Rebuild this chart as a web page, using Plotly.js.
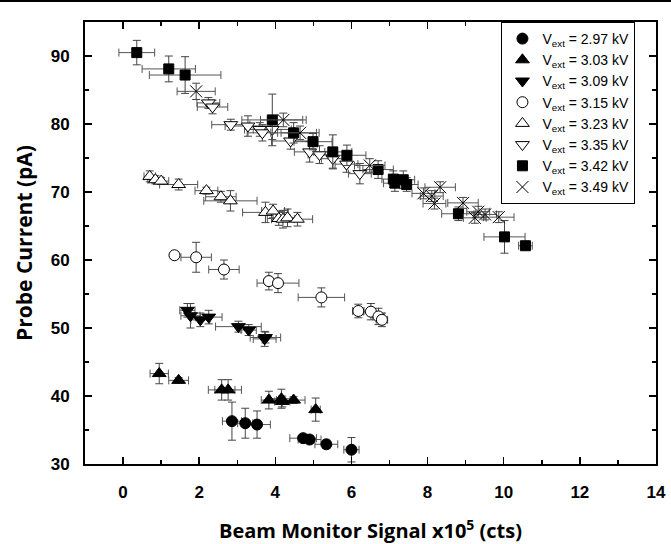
<!DOCTYPE html>
<html><head><meta charset="utf-8">
<script src="https://cdn.plot.ly/plotly-3.0.1.min.js"></script>
<style>body{margin:0;background:#fff}</style>
</head><body><div id="chart" style="width:671px;height:544px"></div>
<script>
const seriesNames = ["V<sub>ext</sub> = 2.97 kV","V<sub>ext</sub> = 3.03 kV","V<sub>ext</sub> = 3.09 kV","V<sub>ext</sub> = 3.15 kV","V<sub>ext</sub> = 3.23 kV","V<sub>ext</sub> = 3.35 kV","V<sub>ext</sub> = 3.42 kV","V<sub>ext</sub> = 3.49 kV"];

const x297 = [2.86, 3.21, 3.52, 4.73, 4.9, 5.34, 6.0];
const y297 = [36.3, 36.0, 35.8, 33.8, 33.6, 32.9, 32.1];
const ex297 = [0.25, 0.2, 0.35, 0.35, 0.3, 0.3, 0.2];
const ey297 = [2.8, 2.2, 2.0, 0.5, 0.5, 0.6, 1.8];

const x303 = [0.95, 1.46, 2.59, 2.76, 3.83, 4.16, 4.18, 4.48, 5.06];
const y303 = [43.3, 42.3, 40.9, 40.9, 39.4, 39.6, 39.2, 39.4, 38.0];
const ex303 = [0.24, 0.26, 0.35, 0.35, 0.2, 0.3, 0.2, 0.3, 0.12];
const ey303 = [1.5, 0.4, 1.5, 1.5, 1.3, 1.4, 0.8, 0.5, 1.7];

const x309 = [1.69, 1.77, 2.03, 2.25, 3.03, 3.3, 3.72, 3.74];
const y309 = [52.6, 51.8, 51.2, 51.6, 50.2, 49.7, 48.4, 48.6];
const ex309 = [0.2, 0.25, 0.25, 0.35, 0.6, 0.2, 0.3, 0.4];
const ey309 = [1.0, 1.8, 1.0, 1.0, 0.8, 0.8, 1.1, 0.8];

const x315 = [1.35, 1.92, 2.65, 3.83, 4.07, 5.21, 6.18, 6.51, 6.71, 6.8];
const y315 = [60.7, 60.4, 58.6, 56.9, 56.6, 54.5, 52.5, 52.4, 51.7, 51.2];
const ex315 = [0.1, 0.4, 0.4, 0.1, 0.55, 0.61, 0.15, 0.2, 0.15, 0.15];
const ey315 = [0.5, 2.2, 1.4, 1.3, 1.4, 1.4, 1.0, 1.2, 1.2, 1.0];

const x323 = [0.7, 0.85, 1.0, 1.46, 2.19, 2.57, 2.82, 3.74, 3.94, 4.09, 4.2, 4.32, 4.58];
const y323 = [72.3, 71.8, 71.6, 71.1, 70.2, 69.3, 68.7, 67.0, 67.2, 66.1, 66.0, 66.2, 66.0];
const ex323 = [0.15, 0.2, 0.2, 0.5, 0.3, 0.4, 0.7, 0.6, 0.3, 0.3, 0.3, 0.3, 0.4];
const ey323 = [0.8, 0.6, 0.5, 0.8, 0.5, 0.8, 1.5, 1.5, 1.0, 1.0, 1.3, 1.3, 1.0];

const x335 = [2.24, 2.35, 2.83, 3.28, 3.59, 3.66, 3.92, 4.4, 4.9, 5.16, 5.51, 5.87, 6.22];
const y335 = [83.1, 82.5, 79.9, 79.7, 79.2, 78.7, 79.2, 77.5, 75.9, 75.5, 74.9, 74.1, 72.7];
const ex335 = [0.3, 0.4, 0.5, 0.6, 0.4, 0.4, 0.5, 0.5, 0.4, 0.3, 0.3, 0.3, 0.3];
const ey335 = [0.8, 1.0, 0.8, 1.5, 1.0, 1.2, 1.5, 1.2, 1.5, 1.3, 1.4, 1.2, 1.5];

const x342 = [0.36, 1.2, 1.63, 3.92, 4.48, 4.99, 5.51, 5.88, 6.7, 7.1, 7.14, 7.36, 7.45, 8.81, 10.02, 10.57];
const y342 = [90.5, 88.1, 87.2, 80.6, 78.7, 77.4, 75.9, 75.4, 73.3, 71.9, 71.3, 71.8, 71.1, 66.8, 63.4, 62.1];
const ex342 = [0.47, 0.7, 0.94, 0.8, 0.6, 0.5, 0.5, 0.5, 0.4, 0.3, 0.3, 0.3, 0.3, 0.44, 0.54, 0.18];
const ey342 = [1.8, 1.9, 2.7, 3.8, 1.5, 1.2, 2.5, 1.5, 1.3, 1.2, 1.2, 1.3, 1.0, 1.0, 2.4, 0.6];

const x349 = [1.92, 4.21, 4.65, 6.48, 7.89, 8.11, 8.18, 8.33, 8.93, 9.24, 9.33, 9.51, 9.87];
const y349 = [84.8, 80.6, 78.7, 73.9, 69.8, 69.4, 68.3, 70.7, 68.4, 66.2, 67.1, 66.7, 66.3];
const ex349 = [0.5, 0.6, 0.5, 0.4, 0.3, 0.3, 0.3, 0.4, 0.4, 0.3, 0.3, 0.3, 0.4];
const ey349 = [1.2, 1.0, 1.0, 1.0, 0.8, 0.8, 0.8, 0.8, 0.8, 0.8, 0.8, 0.8, 0.8];

const xTickVals = [0, 2, 4, 6, 8, 10, 12, 14];
const yTickVals = [30, 40, 50, 60, 70, 80, 90];

function mk(x, y, ex, ey, name, symbol, fill, size) {
  return {
    type: 'scatter', mode: 'markers', x: x, y: y, name: name,
    marker: {symbol: symbol, size: size, color: fill, line: {color: '#000', width: 1}},
    error_x: {type: 'data', array: ex, visible: true, color: '#555', thickness: 1, width: 4},
    error_y: {type: 'data', array: ey, visible: true, color: '#444', thickness: 1, width: 4}
  };
}

const traces = [
  mk(x297, y297, ex297, ey297, seriesNames[0], 'circle', '#000', 11),
  mk(x303, y303, ex303, ey303, seriesNames[1], 'triangle-up', '#000', 12),
  mk(x309, y309, ex309, ey309, seriesNames[2], 'triangle-down', '#000', 12),
  mk(x315, y315, ex315, ey315, seriesNames[3], 'circle', '#fff', 11),
  mk(x323, y323, ex323, ey323, seriesNames[4], 'triangle-up', '#fff', 12),
  mk(x335, y335, ex335, ey335, seriesNames[5], 'triangle-down', '#fff', 12),
  mk(x342, y342, ex342, ey342, seriesNames[6], 'square', '#000', 10),
  mk(x349, y349, ex349, ey349, seriesNames[7], 'x-thin-open', '#000', 12)
];

const axisCommon = {
  showgrid: false, zeroline: false, showline: true, linecolor: '#000', linewidth: 2,
  mirror: 'ticks', ticks: 'inside', ticklen: 7, tickwidth: 1.5, tickcolor: '#000',
  tickfont: {family: 'Liberation Sans, Arial, sans-serif', size: 17, color: '#000', weight: 'bold'}
};

const layout = {
  width: 671, height: 544,
  margin: {l: 85, r: 15, t: 22, b: 80},
  paper_bgcolor: '#fff', plot_bgcolor: '#fff',
  showlegend: true,
  xaxis: Object.assign({}, axisCommon, {
    range: [-1, 14], tickvals: xTickVals, ticklabelstandoff: 12,
    minor: {ticks: 'inside', dtick: 1, tick0: 0, ticklen: 4, tickwidth: 1.5, tickcolor: '#000'},
    title: {text: 'Beam Monitor Signal x10<sup>5</sup> (cts)', standoff: 23,
      font: {family: 'Open Sans, sans-serif', size: 20, color: '#000', weight: 'bold'}}
  }),
  yaxis: Object.assign({}, axisCommon, {
    range: [30, 95], tickvals: yTickVals, ticklabelstandoff: 10,
    minor: {ticks: 'inside', dtick: 5, tick0: 30, ticklen: 4, tickwidth: 1.5, tickcolor: '#000'},
    title: {text: 'Probe Current (pA)', standoff: 12,
      font: {family: 'Open Sans, sans-serif', size: 21, color: '#000', weight: 'bold'}}
  }),
  legend: {
    x: 0.964, y: 1, xanchor: 'right', yanchor: 'top',
    bgcolor: '#fff', bordercolor: '#000', borderwidth: 1,
    font: {family: 'Liberation Sans, Arial, sans-serif', size: 14, color: '#000'},
    tracegroupgap: 0
  },
  shapes: [{type: 'line', xref: 'paper', yref: 'paper', x0: -0.2, x1: 1.1, y0: 1.0475, y1: 1.0475,
    line: {color: '#000', width: 2}}]
};

Plotly.newPlot('chart', traces, layout, {displayModeBar: false, staticPlot: true});
</script></body></html>
